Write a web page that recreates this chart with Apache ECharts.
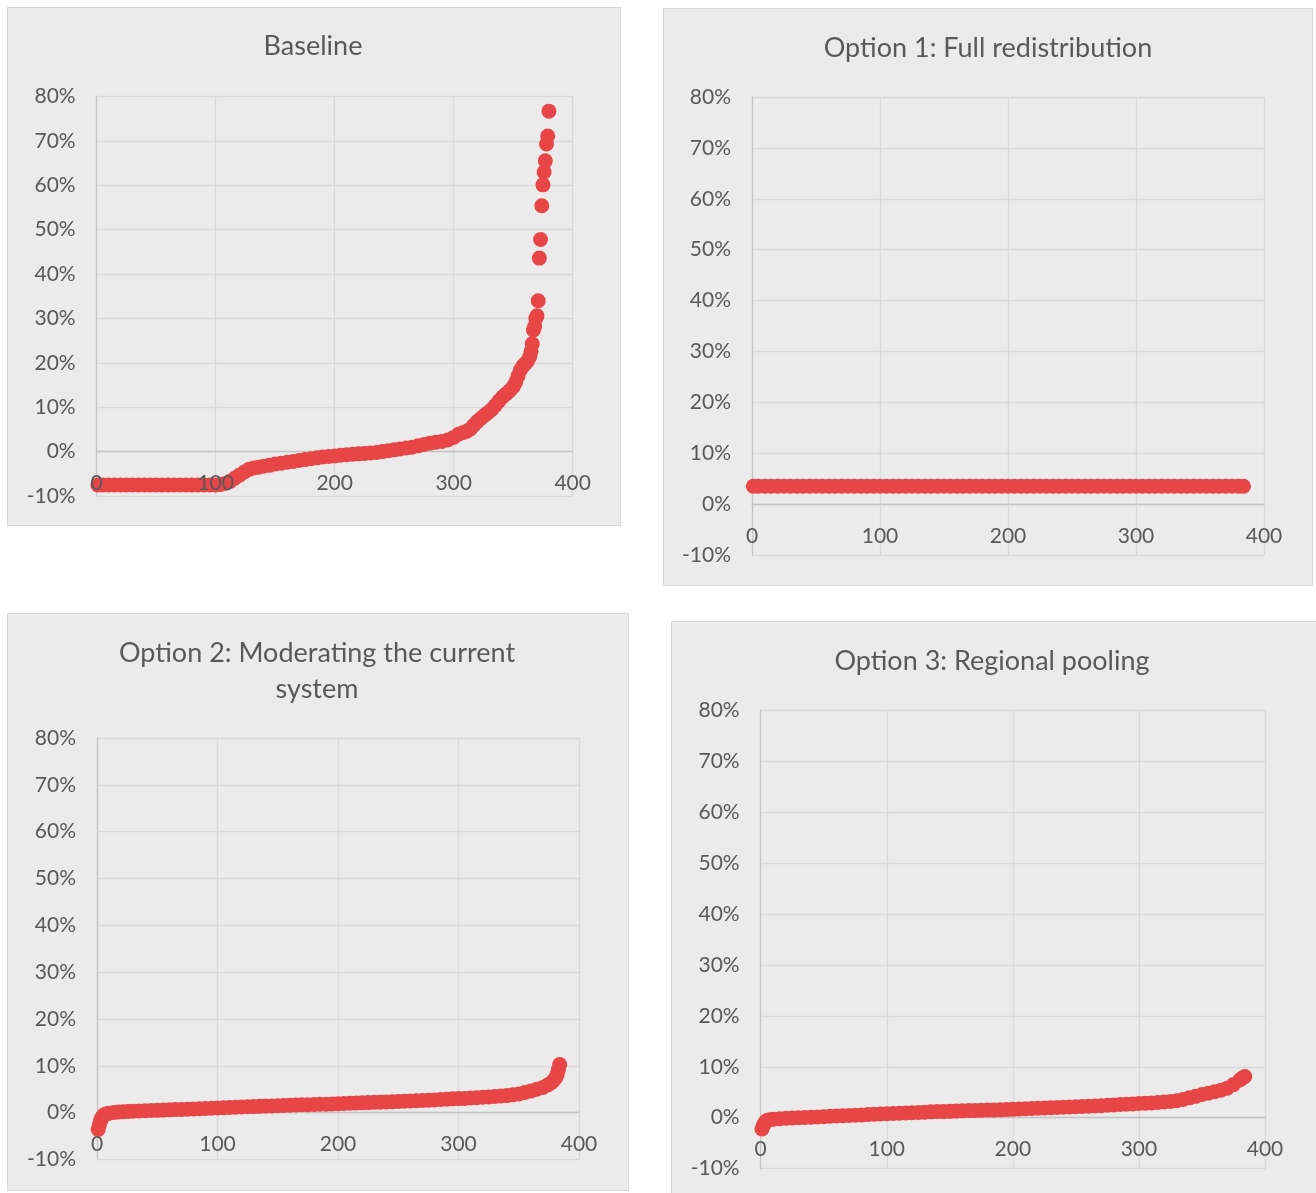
<!DOCTYPE html>
<html>
<head>
<meta charset="utf-8">
<title>Distribution of changes by option</title>
<script src="https://cdn.jsdelivr.net/npm/echarts@6/dist/echarts.min.js"></script>
<style>
  html, body { margin: 0; padding: 0; background: #ffffff; width: 1316px; height: 1193px; overflow: hidden; }
  .panel { position: absolute; box-sizing: border-box; background: #ebebeb; border: 1px solid #d9d9d9; }
</style>
</head>
<body>
<div id="p1" class="panel" style="left:7px;top:7px;width:614px;height:519px"></div>
<div id="p2" class="panel" style="left:663px;top:8px;width:650px;height:578px"></div>
<div id="p3" class="panel" style="left:7px;top:613px;width:622px;height:578px"></div>
<div id="p4" class="panel" style="left:671px;top:621px;width:650px;height:600px"></div>
<script>
// Shared axis ticks
const xTicks = [0, 100, 200, 300, 400];
const yTicks = [-10, 0, 10, 20, 30, 40, 50, 60, 70, 80];

// Baseline: rank of each area vs. change (%)
const baselineRank = [
  1, 5, 10, 15, 20, 25, 30, 35, 40, 45, 50, 55, 60, 65, 70, 75, 80, 85, 90, 95, 100,
  104, 108, 112, 116, 120, 124, 128, 132, 136, 140,
  145, 150, 155, 160, 165, 170, 175, 180, 185, 190, 195, 200, 205, 210, 215, 220,
  225, 230, 235, 240, 245, 250, 255, 260, 265, 270, 275, 280, 285, 290, 295, 300,
  304, 308, 311, 314, 317, 320, 323, 326, 329, 332, 335, 338, 341, 344, 347, 350,
  352, 354, 356, 358, 360, 362, 364,
  365, 366, 367, 368, 369, 370, 371, 372, 373, 374, 375, 376, 377, 378, 379, 380
];
const baselineValue = [
  -7.5, -7.5, -7.5, -7.5, -7.5, -7.5, -7.5, -7.5, -7.5, -7.5, -7.5, -7.5, -7.5, -7.5, -7.5, -7.5, -7.5, -7.5, -7.5, -7.5, -7.5,
  -7.4, -7.2, -6.7, -6.0, -5.3, -4.6, -4.0, -3.7, -3.5, -3.3,
  -3.1, -2.8, -2.6, -2.4, -2.2, -2.0, -1.8, -1.6, -1.4, -1.2, -1.1, -1.0, -0.8, -0.7, -0.6, -0.5,
  -0.4, -0.3, -0.2, 0.0, 0.2, 0.4, 0.6, 0.8, 1.0, 1.3, 1.6, 1.9, 2.1, 2.3, 2.6, 3.2,
  3.9, 4.3, 4.6, 5.1, 6.0, 6.8, 7.5, 8.2, 8.8, 9.5, 10.4, 11.4, 12.3, 13.0, 13.7, 14.6,
  15.6, 17.0, 18.4, 19.2, 19.8, 20.4, 21.4,
  22.6, 24.3, 27.4, 28.2, 30.0, 30.6, 34.0, 43.6, 47.8, 55.4, 60.1, 63.0, 65.5, 69.3, 71.1, 76.7
];

// Option 1: Full redistribution
const option1Rank = [
  1, 5, 10, 15, 20, 25, 30, 35, 40, 45, 50, 55, 60, 65, 70, 75, 80, 85, 90, 95,
  100, 105, 110, 115, 120, 125, 130, 135, 140, 145, 150, 155, 160, 165, 170, 175, 180, 185, 190, 195,
  200, 205, 210, 215, 220, 225, 230, 235, 240, 245, 250, 255, 260, 265, 270, 275, 280, 285, 290, 295,
  300, 305, 310, 315, 320, 325, 330, 335, 340, 345, 350, 355, 360, 365, 370, 375, 380, 384
];
const option1Value = [
  3.5, 3.5, 3.5, 3.5, 3.5, 3.5, 3.5, 3.5, 3.5, 3.5, 3.5, 3.5, 3.5, 3.5, 3.5, 3.5, 3.5, 3.5, 3.5, 3.5,
  3.5, 3.5, 3.5, 3.5, 3.5, 3.5, 3.5, 3.5, 3.5, 3.5, 3.5, 3.5, 3.5, 3.5, 3.5, 3.5, 3.5, 3.5, 3.5, 3.5,
  3.5, 3.5, 3.5, 3.5, 3.5, 3.5, 3.5, 3.5, 3.5, 3.5, 3.5, 3.5, 3.5, 3.5, 3.5, 3.5, 3.5, 3.5, 3.5, 3.5,
  3.5, 3.5, 3.5, 3.5, 3.5, 3.5, 3.5, 3.5, 3.5, 3.5, 3.5, 3.5, 3.5, 3.5, 3.5, 3.5, 3.5, 3.5
];

// Option 2: Moderating the current system
const option2Rank = [
  1, 2, 3, 4, 5, 6, 8, 10, 14, 18, 22, 26,
  30, 35, 40, 45, 50, 55, 60, 65, 70, 75, 80, 85, 90, 95, 100, 105, 110, 115, 120, 125,
  130, 135, 140, 145, 150, 155, 160, 165, 170, 175, 180, 185, 190, 195, 200, 205, 210, 215,
  220, 225, 230, 235, 240, 245, 250, 255, 260, 265, 270, 275, 280, 285, 290, 295, 300, 305,
  310, 315, 320, 325, 330, 335, 340, 345, 350, 355, 360, 365, 370,
  374, 377, 379, 381, 382, 383, 384
];
const option2Value = [
  -3.6, -2.6, -1.7, -1.1, -0.7, -0.45, -0.25, -0.1, 0.05, 0.15, 0.2, 0.25,
  0.3, 0.35, 0.4, 0.45, 0.5, 0.55, 0.6, 0.65, 0.7, 0.75, 0.8, 0.85, 0.9, 0.95, 1.0, 1.05, 1.1, 1.15, 1.2, 1.25,
  1.3, 1.35, 1.4, 1.45, 1.5, 1.55, 1.6, 1.65, 1.7, 1.7, 1.75, 1.8, 1.8, 1.85, 1.9, 1.95, 2.0, 2.05,
  2.1, 2.15, 2.2, 2.25, 2.3, 2.35, 2.4, 2.45, 2.5, 2.55, 2.6, 2.65, 2.7, 2.8, 2.85, 2.95, 3.0, 3.05,
  3.15, 3.2, 3.3, 3.35, 3.45, 3.55, 3.65, 3.8, 4.0, 4.3, 4.6, 5.0, 5.4,
  5.9, 6.4, 6.9, 7.6, 8.3, 9.2, 10.3
];

// Option 3: Regional pooling
const option3Rank = [
  1, 2, 3, 4, 5, 7, 10, 15, 20,
  25, 30, 35, 40, 45, 50, 55, 60, 65, 70, 75, 80, 85, 90, 95, 100, 105, 110, 115, 120,
  125, 130, 135, 140, 145, 150, 155, 160, 165, 170, 175, 180, 185, 190, 195, 200, 205, 210, 215, 220,
  225, 230, 235, 240, 245, 250, 255, 260, 265, 270, 275, 280, 285, 290, 295, 300, 305, 310, 315, 320,
  325, 330, 335, 340, 345, 350, 355, 360, 365, 370, 375, 380, 382, 384
];
const option3Value = [
  -2.2, -1.6, -1.1, -0.75, -0.55, -0.4, -0.3, -0.2, -0.1,
  -0.05, 0.0, 0.05, 0.1, 0.15, 0.2, 0.3, 0.35, 0.4, 0.45, 0.5, 0.55, 0.65, 0.7, 0.75, 0.8, 0.85, 0.9, 0.95, 1.0,
  1.05, 1.1, 1.15, 1.2, 1.2, 1.25, 1.3, 1.35, 1.4, 1.4, 1.45, 1.5, 1.5, 1.55, 1.6, 1.65, 1.7, 1.75, 1.8, 1.85,
  1.9, 1.95, 2.0, 2.05, 2.1, 2.15, 2.2, 2.25, 2.3, 2.35, 2.45, 2.5, 2.6, 2.65, 2.7, 2.8, 2.85, 2.9, 3.0, 3.1,
  3.2, 3.35, 3.6, 3.9, 4.2, 4.55, 4.8, 5.1, 5.4, 5.8, 6.5, 7.4, 7.8, 8.1
];

const FONT = 'Lato, "Open Sans", "Liberation Sans", sans-serif';
const TEXT = '#595959';
const GRID_LINE = '#d9d9d9';
const AXIS_LINE = '#c4c4c4';
const MARKER = '#e84646';

function pairs(ranks, values) {
  return ranks.map(function (r, i) { return [r, values[i]]; });
}

function buildOption(cfg) {
  const xMin = xTicks[0], xMax = xTicks[xTicks.length - 1];
  const yMin = yTicks[0], yMax = yTicks[yTicks.length - 1];
  const gridHeight = cfg.grid[3];
  // the category labels sit on the 0% line, so lift the label axis from the bottom edge
  const zeroLift = gridHeight * (0 - yMin) / (yMax - yMin);
  return {
    animation: false,
    backgroundColor: 'transparent',
    textStyle: { fontFamily: FONT },
    graphic: [{
      type: 'text',
      x: cfg.titleX,
      y: cfg.titleY,
      silent: true,
      style: {
        text: cfg.title,
        fill: TEXT,
        font: '27px ' + FONT,
        align: 'center',
        verticalAlign: 'middle',
        lineHeight: 36
      }
    }],
    grid: {
      left: cfg.grid[0], top: cfg.grid[1], width: cfg.grid[2], height: gridHeight,
      containLabel: false, outerBoundsMode: 'none'
    },
    xAxis: [{
      type: 'value', min: xMin, max: xMax, interval: 100, z: 1,
      axisLine: { show: true, onZero: true, lineStyle: { color: AXIS_LINE, width: 1.3 } },
      axisTick: { show: false },
      axisLabel: { show: false },
      splitLine: { show: true, showMinLine: false, lineStyle: { color: GRID_LINE, width: 1.3 } }
    }, {
      // labels only, drawn above the markers
      type: 'value', min: xMin, max: xMax, interval: 100, position: 'bottom', z: 10,
      offset: -zeroLift,
      axisLine: { show: false, onZero: false },
      axisTick: { show: false },
      splitLine: { show: false },
      axisLabel: { margin: 21.5, color: TEXT, fontSize: 21, fontFamily: FONT }
    }],
    yAxis: {
      type: 'value', min: yMin, max: yMax, interval: 10, z: 0,
      axisLine: { show: true, lineStyle: { color: AXIS_LINE, width: 1.3 } },
      axisTick: { show: false },
      splitLine: { show: true, lineStyle: { color: GRID_LINE, width: 1.3 } },
      axisLabel: { margin: 21, color: TEXT, fontSize: 21, fontFamily: FONT, formatter: '{value}%' }
    },
    series: [{
      type: 'scatter',
      xAxisIndex: 0,
      data: pairs(cfg.ranks, cfg.values),
      symbol: 'circle',
      symbolSize: 15,
      itemStyle: { color: MARKER, opacity: 1 },
      z: 2
    }]
  };
}

const panels = [
  { id: 'p1', title: 'Baseline', titleX: 305, titleY: 38,
    grid: [88.7, 88.5, 476, 399.5], ranks: baselineRank, values: baselineValue },
  { id: 'p2', title: 'Option 1: Full redistribution', titleX: 324, titleY: 39,
    grid: [88, 88, 512, 458], ranks: option1Rank, values: option1Value },
  { id: 'p3', title: 'Option 2: Moderating the current\nsystem', titleX: 309, titleY: 57,
    grid: [89, 124, 482, 421.5], ranks: option2Rank, values: option2Value },
  { id: 'p4', title: 'Option 3: Regional pooling', titleX: 320, titleY: 39,
    grid: [88.7, 88, 504.3, 458.7], ranks: option3Rank, values: option3Value }
];

panels.forEach(function (p) {
  const chart = echarts.init(document.getElementById(p.id), null, { renderer: 'canvas' });
  chart.setOption(buildOption(p));
});
</script>
</body>
</html>
